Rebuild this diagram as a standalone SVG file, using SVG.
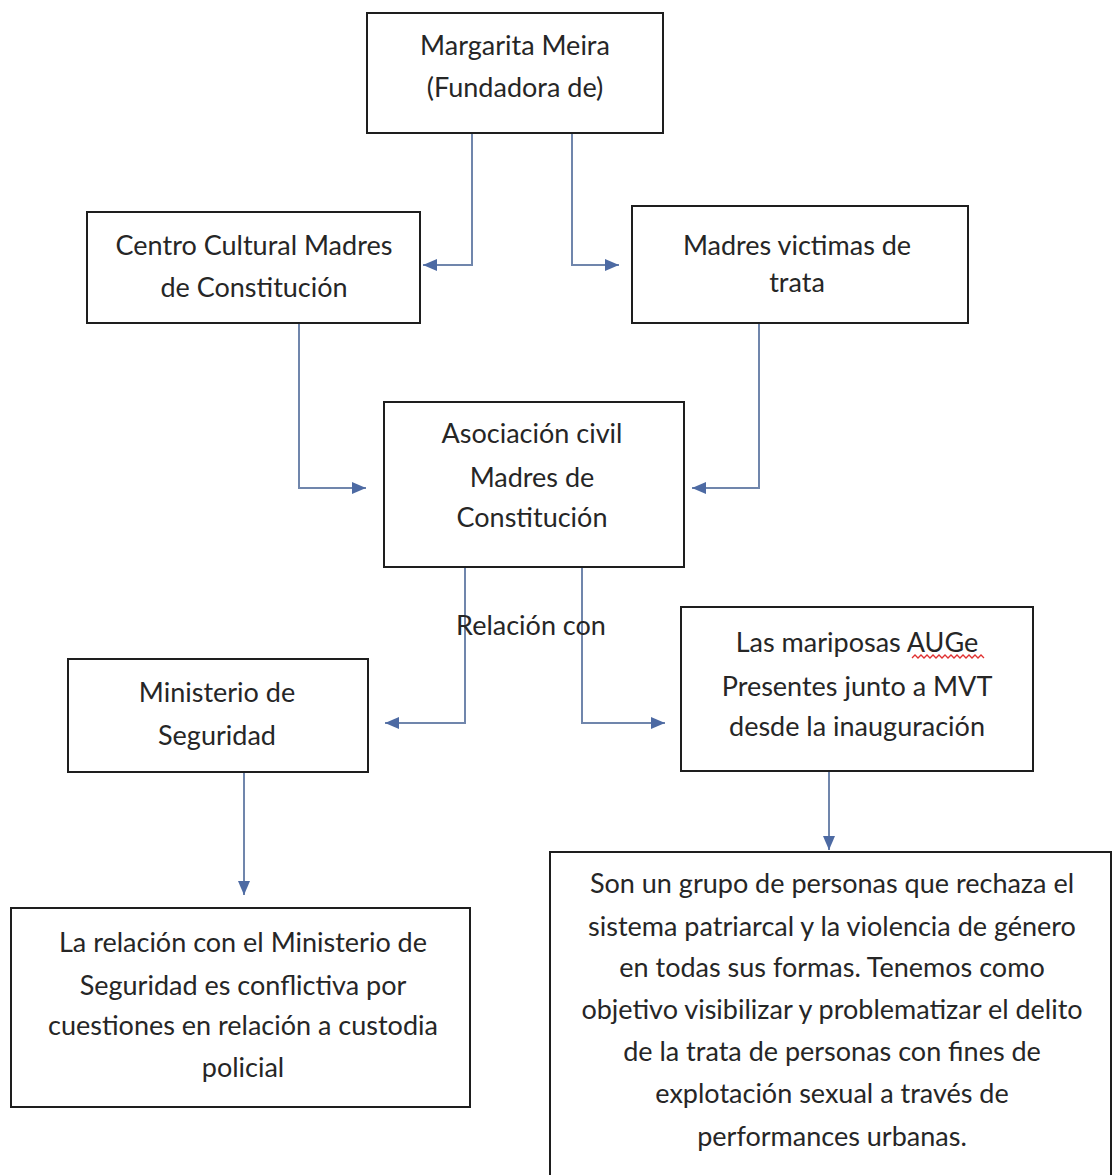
<svg xmlns="http://www.w3.org/2000/svg" width="1113" height="1175" viewBox="0 0 1113 1175">
<style>
.box{fill:#ffffff;stroke:#1e1e1e;stroke-width:2}
.t{font-family:Lato,"Liberation Sans",sans-serif;font-size:27px;fill:#262626;text-anchor:middle}
.c{fill:none;stroke:#7086ac;stroke-width:2}
</style>
<defs>
<marker id="ah" viewBox="0 0 14 12" refX="14" refY="6" markerWidth="14" markerHeight="12" markerUnits="userSpaceOnUse" orient="auto">
<path d="M0,0 L14,6 L0,12 z" fill="#4d6aa3"/>
</marker>
</defs>
<rect width="1113" height="1175" fill="#ffffff"/>
<g id="connectors">
<path class="c" d="M472,133 V265 H423" marker-end="url(#ah)"/>
<path class="c" d="M572,133 V265 H619" marker-end="url(#ah)"/>
<path class="c" d="M299,323 V488 H366" marker-end="url(#ah)"/>
<path class="c" d="M759,323 V488 H692" marker-end="url(#ah)"/>
<path class="c" d="M465,567 V723 H385" marker-end="url(#ah)"/>
<path class="c" d="M582,567 V723 H665" marker-end="url(#ah)"/>
<path class="c" d="M244,772 V895" marker-end="url(#ah)"/>
<path class="c" d="M829,771 V850" marker-end="url(#ah)"/>
</g>
<g id="margarita">
<rect class="box" x="367" y="13" width="296" height="120"/>
<text class="t" x="515" y="55">Margarita Meira</text>
<text class="t" x="515" y="97">(Fundadora de)</text>
</g>
<g id="centro">
<rect class="box" x="87" y="212" width="333" height="111"/>
<text class="t" x="254" y="255">Centro Cultural Madres</text>
<text class="t" x="254" y="297">de Constitución</text>
</g>
<g id="madres">
<rect class="box" x="632" y="206" width="336" height="117"/>
<text class="t" x="797" y="255">Madres victimas de</text>
<text class="t" x="797" y="292">trata</text>
</g>
<g id="asociacion">
<rect class="box" x="384" y="402" width="300" height="165"/>
<text class="t" x="532" y="443">Asociación civil</text>
<text class="t" x="532" y="487">Madres de</text>
<text class="t" x="532" y="527">Constitución</text>
</g>
<g id="relacion-label">
<text class="t" x="531" y="635">Relación con</text>
</g>
<g id="ministerio">
<rect class="box" x="68" y="659" width="300" height="113"/>
<text class="t" x="217" y="702">Ministerio de</text>
<text class="t" x="217" y="745">Seguridad</text>
</g>
<g id="mariposas">
<rect class="box" x="681" y="607" width="352" height="164"/>
<text class="t" x="857" y="652">Las mariposas AUGe</text>
<text class="t" x="857" y="696">Presentes junto a MVT</text>
<text class="t" x="857" y="736">desde la inauguración</text>
<path d="M912,658 l3,-3 l3,3 l3,-3 l3,3 l3,-3 l3,3 l3,-3 l3,3 l3,-3 l3,3 l3,-3 l3,3 l3,-3 l3,3 l3,-3 l3,3 l3,-3 l3,3 l3,-3 l3,3 l3,-3 l3,3 l3,-3 l3,3" fill="none" stroke="#e03030" stroke-width="1.3"/>
</g>
<g id="conflicto">
<rect class="box" x="11" y="908" width="459" height="199"/>
<text class="t" x="243" y="952">La relación con el Ministerio de</text>
<text class="t" x="243" y="995">Seguridad es conflictiva por</text>
<text class="t" x="243" y="1035">cuestiones en relación a custodia</text>
<text class="t" x="243" y="1077">policial</text>
</g>
<g id="grupo">
<rect class="box" x="550" y="852" width="561" height="340"/>
<text class="t" x="832" y="893">Son un grupo de personas que rechaza el</text>
<text class="t" x="832" y="936">sistema patriarcal y la violencia de género</text>
<text class="t" x="832" y="977">en todas sus formas. Tenemos como</text>
<text class="t" x="832" y="1019">objetivo visibilizar y problematizar el delito</text>
<text class="t" x="832" y="1061">de la trata de personas con fines de</text>
<text class="t" x="832" y="1103">explotación sexual a través de</text>
<text class="t" x="832" y="1146">performances urbanas.</text>
</g>
</svg>
